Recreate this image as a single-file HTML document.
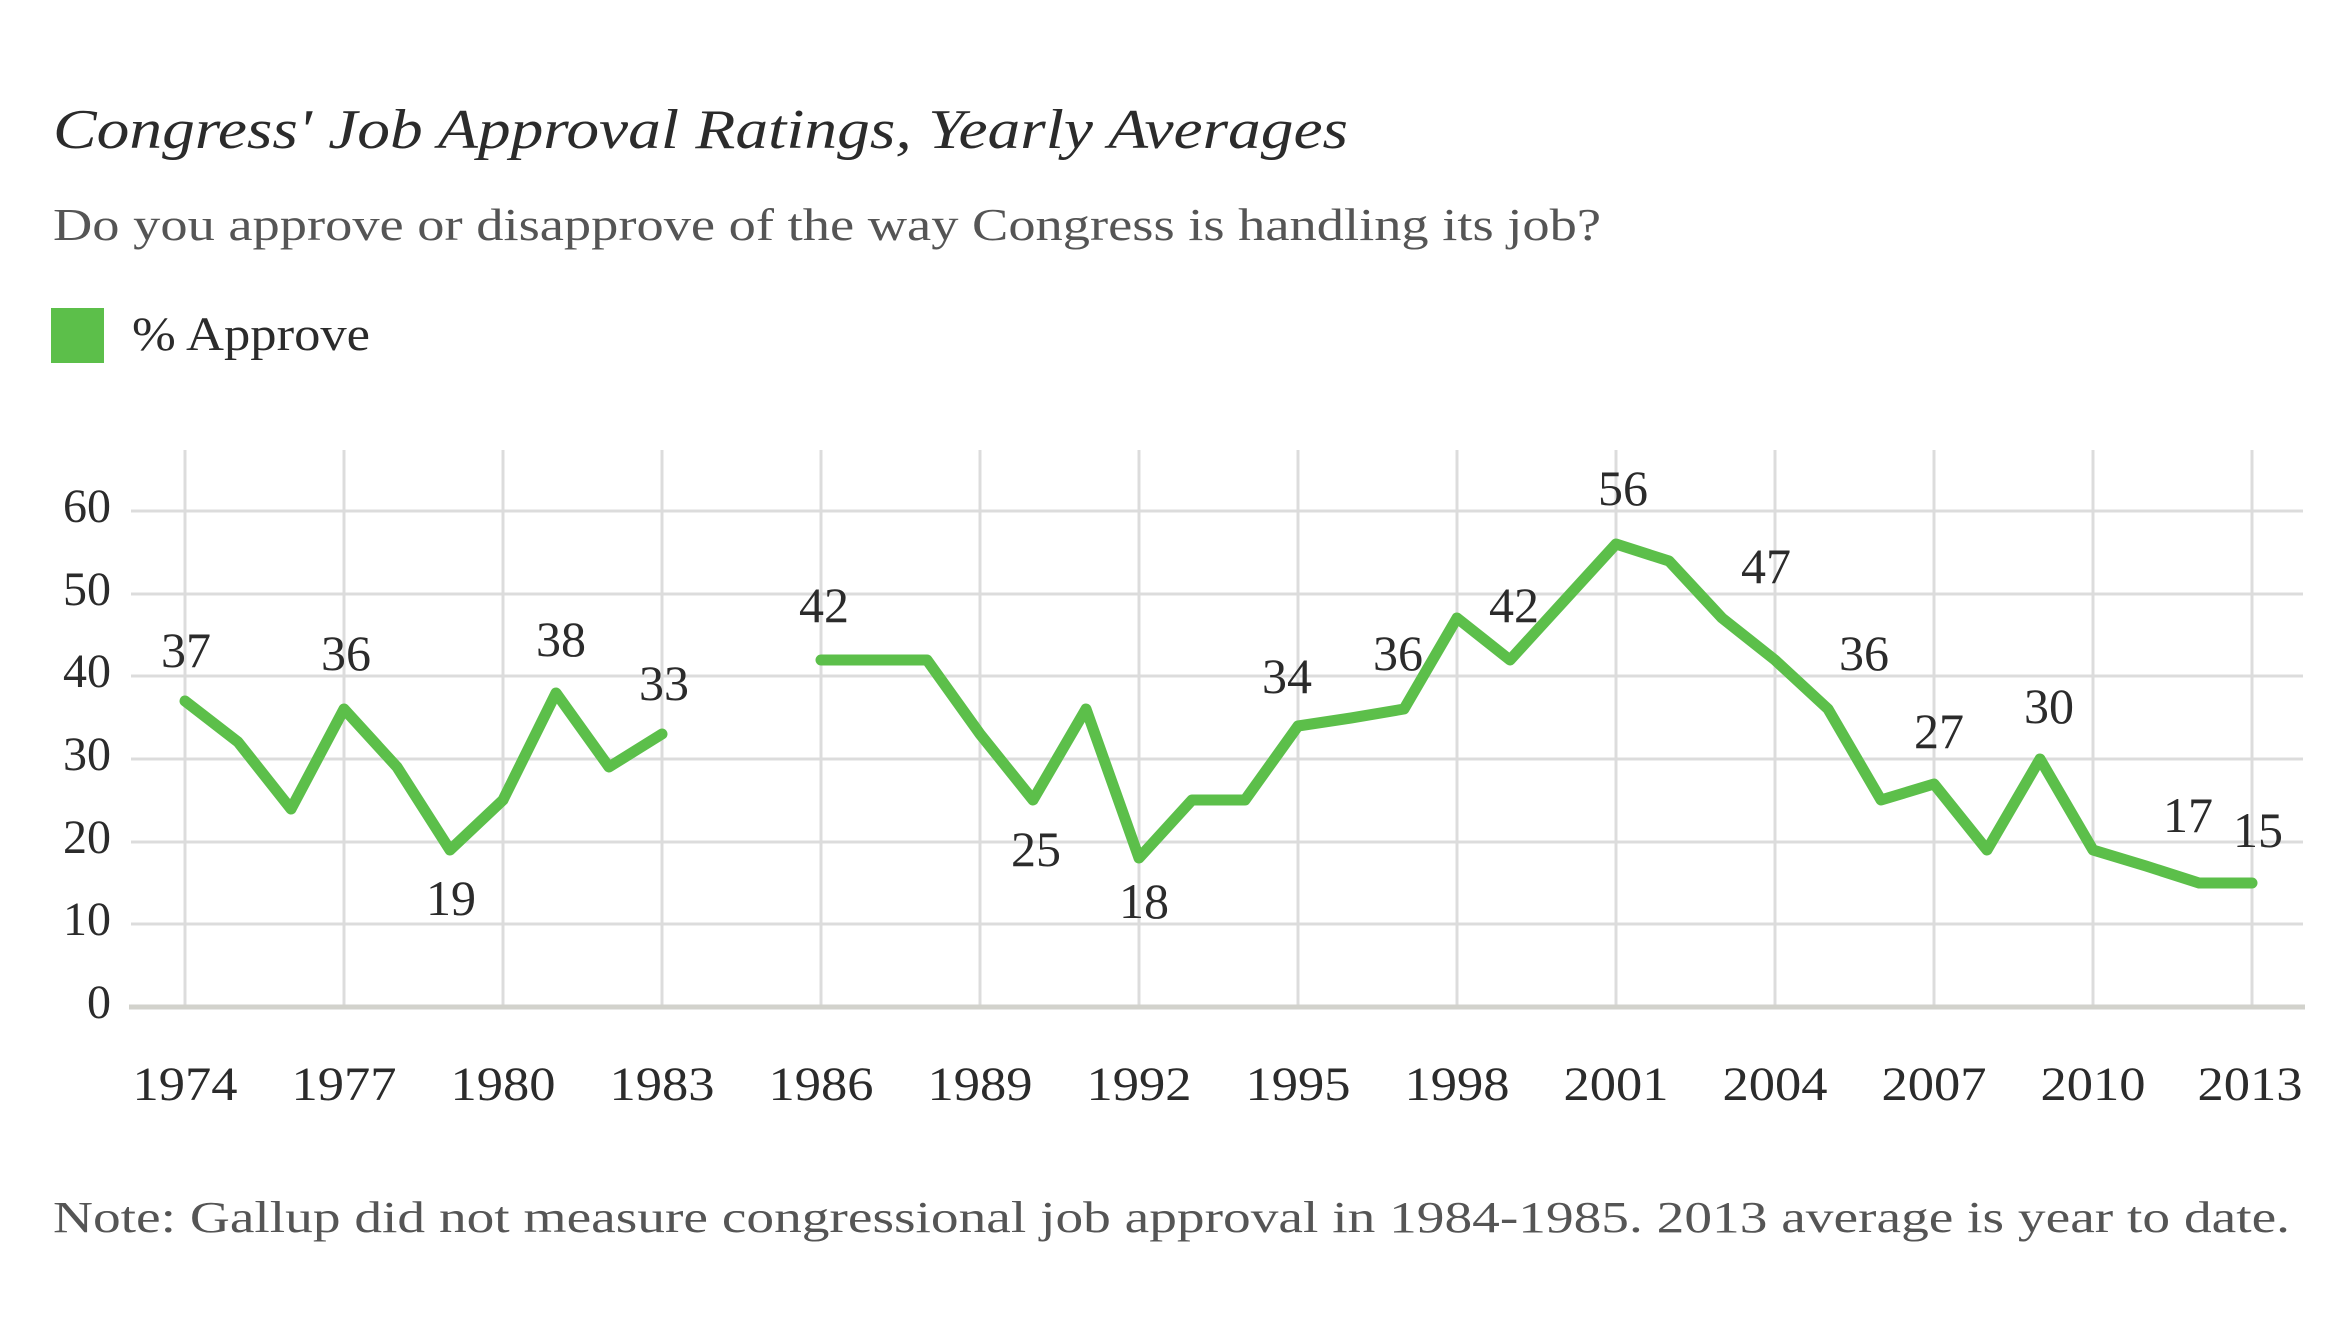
<!DOCTYPE html>
<html><head><meta charset="utf-8"><style>html,body{margin:0;padding:0;background:#fff}svg{display:block}</style></head>
<body>
<svg width="2345" height="1337" xmlns="http://www.w3.org/2000/svg" font-family="'Liberation Serif', serif" fill="#2b2b2b">
<text x="53" y="148" font-size="56" font-style="italic" textLength="1295" lengthAdjust="spacingAndGlyphs">Congress' Job Approval Ratings, Yearly Averages</text>
<text x="53" y="240" font-size="46" fill="#555" textLength="1548" lengthAdjust="spacingAndGlyphs">Do you approve or disapprove of the way Congress is handling its job?</text>
<rect x="51" y="308" width="53" height="55" fill="#5cbf4a"/>
<text x="132" y="350" font-size="48" textLength="238" lengthAdjust="spacingAndGlyphs">% Approve</text>
<g stroke="#dcdcdc" stroke-width="3">
<line x1="185" y1="450" x2="185" y2="1007"/><line x1="344" y1="450" x2="344" y2="1007"/><line x1="503" y1="450" x2="503" y2="1007"/><line x1="662" y1="450" x2="662" y2="1007"/><line x1="821" y1="450" x2="821" y2="1007"/><line x1="980" y1="450" x2="980" y2="1007"/><line x1="1139" y1="450" x2="1139" y2="1007"/><line x1="1298" y1="450" x2="1298" y2="1007"/><line x1="1457" y1="450" x2="1457" y2="1007"/><line x1="1616" y1="450" x2="1616" y2="1007"/><line x1="1775" y1="450" x2="1775" y2="1007"/><line x1="1934" y1="450" x2="1934" y2="1007"/><line x1="2093" y1="450" x2="2093" y2="1007"/><line x1="2252" y1="450" x2="2252" y2="1007"/>
<line x1="131" y1="511" x2="2303" y2="511"/><line x1="131" y1="594" x2="2303" y2="594"/><line x1="131" y1="676" x2="2303" y2="676"/><line x1="131" y1="759" x2="2303" y2="759"/><line x1="131" y1="842" x2="2303" y2="842"/><line x1="131" y1="924" x2="2303" y2="924"/>
</g>
<line x1="129" y1="1007" x2="2305" y2="1007" stroke="#d2d2cc" stroke-width="5"/>
<g font-size="48" text-anchor="end">
<text x="111" y="522">60</text><text x="111" y="605">50</text><text x="111" y="687">40</text><text x="111" y="770">30</text><text x="111" y="853">20</text><text x="111" y="935">10</text><text x="111" y="1018">0</text>
</g>
<g font-size="48" text-anchor="middle">
<text x="185" y="1100" textLength="105" lengthAdjust="spacingAndGlyphs">1974</text><text x="344" y="1100" textLength="105" lengthAdjust="spacingAndGlyphs">1977</text><text x="503" y="1100" textLength="105" lengthAdjust="spacingAndGlyphs">1980</text><text x="662" y="1100" textLength="105" lengthAdjust="spacingAndGlyphs">1983</text><text x="821" y="1100" textLength="105" lengthAdjust="spacingAndGlyphs">1986</text><text x="980" y="1100" textLength="105" lengthAdjust="spacingAndGlyphs">1989</text><text x="1139" y="1100" textLength="105" lengthAdjust="spacingAndGlyphs">1992</text><text x="1298" y="1100" textLength="105" lengthAdjust="spacingAndGlyphs">1995</text><text x="1457" y="1100" textLength="105" lengthAdjust="spacingAndGlyphs">1998</text><text x="1616" y="1100" textLength="105" lengthAdjust="spacingAndGlyphs">2001</text><text x="1775" y="1100" textLength="105" lengthAdjust="spacingAndGlyphs">2004</text><text x="1934" y="1100" textLength="105" lengthAdjust="spacingAndGlyphs">2007</text><text x="2093" y="1100" textLength="105" lengthAdjust="spacingAndGlyphs">2010</text><text x="2250" y="1100" textLength="105" lengthAdjust="spacingAndGlyphs">2013</text>
</g>
<g fill="none" stroke="#5cbf4a" stroke-width="11" stroke-linejoin="round" stroke-linecap="round">
<polyline points="185,701 238,742 291,809 344,709 397,767 450,850 503,800 556,693 609,767 662,734"/>
<polyline points="821,660 874,660 927,660 980,734 1033,800 1086,709 1139,858 1192,800 1245,800 1298,726 1351,718 1404,709 1457,618 1510,660 1563,602 1616,544 1669,561 1722,618 1775,660 1828,709 1881,800 1934,784 1987,850 2040,759 2093,850 2146,866 2199,883 2252,883"/>
</g>
<g font-size="50" text-anchor="middle">
<text x="186" y="667">37</text><text x="346" y="670">36</text><text x="451" y="915">19</text><text x="561" y="656">38</text><text x="664" y="700">33</text><text x="824" y="622">42</text><text x="1036" y="866">25</text><text x="1144" y="918">18</text><text x="1287" y="693">34</text><text x="1398" y="670">36</text><text x="1514" y="622">42</text><text x="1623" y="505">56</text><text x="1766" y="583">47</text><text x="1864" y="670">36</text><text x="1939" y="748">27</text><text x="2049" y="723">30</text><text x="2188" y="832">17</text><text x="2258" y="847">15</text>
</g>
<text x="53" y="1232" font-size="44" fill="#555" textLength="2237" lengthAdjust="spacingAndGlyphs">Note: Gallup did not measure congressional job approval in 1984-1985. 2013 average is year to date.</text>
</svg>
</body></html>
